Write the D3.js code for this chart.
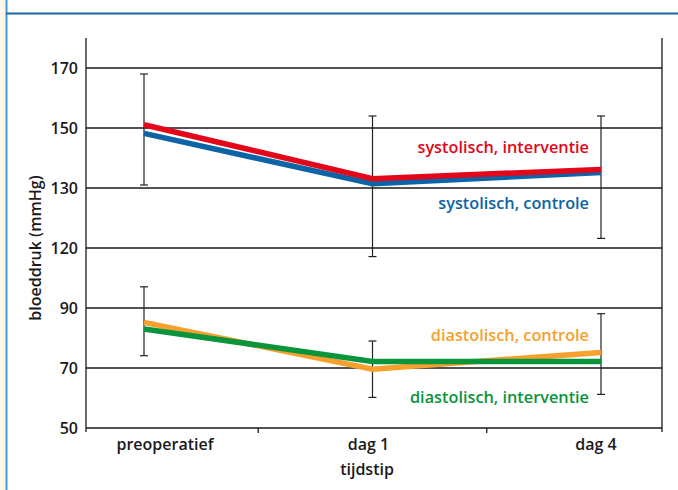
<!DOCTYPE html>
<html><head><meta charset="utf-8">
<script src="https://cdn.jsdelivr.net/npm/d3@7"></script>
<style>body{margin:0;background:#fff}svg{display:block}text{font-family:"Open Sans",sans-serif;font-weight:600}</style>
</head><body><svg id="c" width="678" height="490"></svg>
<script>
const categories = ["preoperatief", "dag 1", "dag 4"];
const yTicks = [50, 70, 90, 120, 130, 150, 170];
const sysInterventie = [151.1, 133.1, 136.2];
const sysControle = [148.2, 131.4, 135.2];
const diaControle = [85.2, 69.6, 75.2];
const diaInterventie = [83.0, 72.2, 72.2];
const sysErrTop = [168, 154, 154];
const sysErrBottom = [131, 115.7, 121.6];
const diaErrTop = [100.6, 79, 88.1];
const diaErrBottom = [74.1, 60.2, 61.2];
const seriesNames = ["systolisch, interventie", "systolisch, controle", "diastolisch, controle", "diastolisch, interventie"];

const svg = d3.select("#c");
svg.append("rect").attr("x",0).attr("y",0).attr("width",5.5).attr("height",490).attr("fill","#fff8ea");
svg.append("line").attr("x1",6.5).attr("x2",6.5).attr("y1",0).attr("y2",490).attr("stroke","#4a97d2").attr("stroke-width",2);
svg.append("line").attr("x1",6).attr("x2",678).attr("y1",13.5).attr("y2",13.5).attr("stroke","#1f68a6").attr("stroke-width",2);

const L = 86, R = 662, T = 38;
const y = d3.scaleLinear().domain(yTicks).range([428, 368, 308, 248, 188, 128, 68]);
const x = d3.scalePoint().domain(categories).range([144, 601]);
const labelShift = [21, -4, -5];

const g = svg.append("g");
g.selectAll(".grid").data(yTicks).join("line")
  .attr("x1", L).attr("x2", R).attr("y1", d => y(d)).attr("y2", d => y(d))
  .attr("stroke", "#1a1a1a").attr("stroke-width", 1.3);
g.append("line").attr("x1",L).attr("x2",L).attr("y1",T).attr("y2",y(50)+4).attr("stroke","#1a1a1a").attr("stroke-width",1.3);
g.append("line").attr("x1",R).attr("x2",R).attr("y1",T).attr("y2",y(50)+4).attr("stroke","#1a1a1a").attr("stroke-width",1.3);
const xs = categories.map(c => x(c));
const mids = [(xs[0]+xs[1])/2, (xs[1]+xs[2])/2];
g.selectAll(".xt").data(mids).join("line")
  .attr("x1", d => d).attr("x2", d => d).attr("y1", y(50)).attr("y2", y(50)+5)
  .attr("stroke","#1a1a1a").attr("stroke-width",1.3);

const FS = 16;
g.selectAll(".yl").data(yTicks).join("text")
  .attr("x", 78).attr("y", d => y(d)+5.5).attr("text-anchor","end")
  .attr("font-size", FS).attr("fill","#1a1a1a").text(d => d);
g.selectAll(".xl").data(categories).join("text")
  .attr("x", (d, i) => x(d) + labelShift[i]).attr("y", 450).attr("text-anchor","middle")
  .attr("font-size", FS).attr("fill","#1a1a1a").text(d => d);
g.append("text").attr("x", 367).attr("y", 475).attr("text-anchor","middle")
  .attr("font-size", FS).attr("fill","#1a1a1a").text("tijdstip");
g.append("text").attr("transform","translate(41,248) rotate(-90)").attr("text-anchor","middle")
  .attr("font-size", FS).attr("fill","#1a1a1a").text("bloeddruk (mmHg)");

function errBars(top, bot) {
  categories.forEach((c, i) => {
    const cx = x(c);
    g.append("line").attr("x1",cx).attr("x2",cx).attr("y1",y(top[i])).attr("y2",y(bot[i])).attr("stroke","#222").attr("stroke-width",1.2);
    [top[i], bot[i]].forEach(v => g.append("line").attr("x1",cx-4).attr("x2",cx+4).attr("y1",y(v)).attr("y2",y(v)).attr("stroke","#222").attr("stroke-width",1.2));
  });
}
errBars(sysErrTop, sysErrBottom);
errBars(diaErrTop, diaErrBottom);

const line = d3.line().x((d, i) => x(categories[i])).y(d => y(d));
const series = [
  {v: sysControle, c: "#0c63a6"},
  {v: sysInterventie, c: "#e3071a"},
  {v: diaControle, c: "#f6a12e"},
  {v: diaInterventie, c: "#0a943c"}
];
series.forEach(s => g.append("path").attr("d", line(s.v)).attr("fill","none").attr("stroke", s.c).attr("stroke-width", 5.5));

const labs = [
  {t: seriesNames[0], c: "#e3071a", y: 153},
  {t: seriesNames[1], c: "#0c63a6", y: 209},
  {t: seriesNames[2], c: "#f6a12e", y: 341},
  {t: seriesNames[3], c: "#0a943c", y: 403}
];
g.selectAll(".sl").data(labs).join("text")
  .attr("x", 589).attr("y", d => d.y).attr("text-anchor","end")
  .attr("font-size", 16.3).attr("fill", d => d.c).text(d => d.t);
</script></body></html>
